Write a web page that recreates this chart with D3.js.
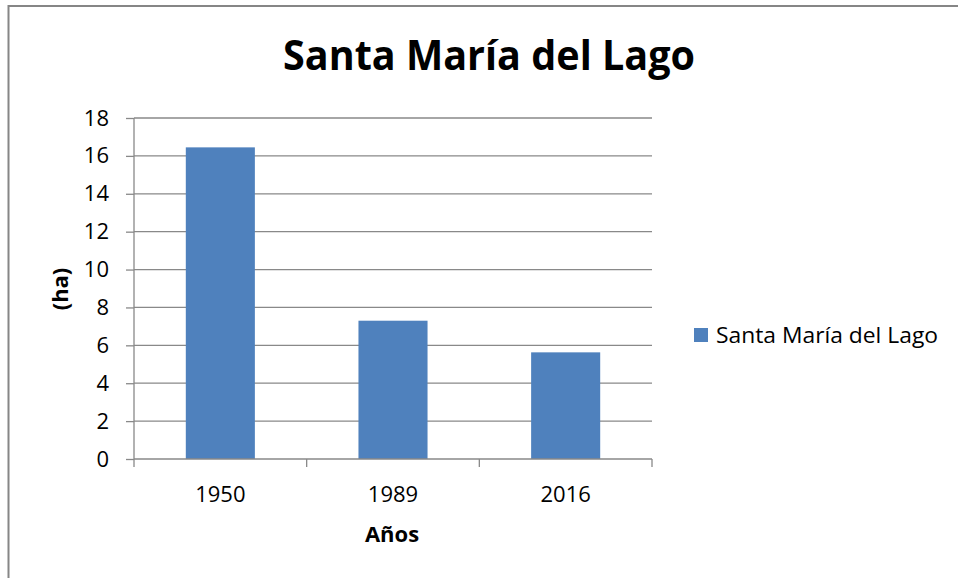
<!DOCTYPE html>
<html>
<head>
    <meta charset="utf-8">
    <script src="https://d3js.org/d3.v7.min.js"></script>
</head>

<style>
body {
    margin: 0;
    background: #ffffff;
}
text {
    font-family: "Open Sans", "Noto Sans", sans-serif;
    fill: #000000;
}
</style>

<body>
<div id="chart"></div>

<script>
    // Chart data
    var years = ["1950", "1989", "2016"];
    var hectares = [16.45, 7.3, 5.63];
    var yTicks = [0, 2, 4, 6, 8, 10, 12, 14, 16, 18];
    var seriesName = "Santa María del Lago";
    var chartTitle = "Santa María del Lago";

    var width = 958, height = 578;
    var plot = {left: 134, right: 652, top: 118, bottom: 459};
    var gridColor = "#898989", barColor = "#4f81bd";

    var svg = d3.select("#chart")
        .append("svg")
        .attr("width", width)
        .attr("height", height);

    // outer chart border (right and bottom are cut off in the picture)
    svg.append("rect")
        .attr("x", 8.5).attr("y", 6)
        .attr("width", 980).attr("height", 600)
        .attr("fill", "none")
        .attr("stroke", "#868686")
        .attr("stroke-width", 2);

    var x = d3.scaleBand()
        .domain(years)
        .range([plot.left, plot.right])
        .paddingInner(0.6)
        .paddingOuter(0.3);

    var y = d3.scaleLinear()
        .domain([0, 18])
        .range([plot.bottom, plot.top]);

    // horizontal gridlines
    svg.append("g")
        .selectAll("line")
        .data(yTicks.filter(d => d > 0))
        .enter().append("line")
        .attr("x1", plot.left).attr("x2", plot.right)
        .attr("y1", d => y(d)).attr("y2", d => y(d))
        .attr("stroke", gridColor)
        .attr("stroke-width", 1.3);

    // bars
    svg.append("g")
        .selectAll("rect")
        .data(years)
        .enter().append("rect")
        .attr("x", d => x(d))
        .attr("y", (d, i) => y(hectares[i]))
        .attr("width", x.bandwidth())
        .attr("height", (d, i) => y(0) - y(hectares[i]))
        .attr("fill", barColor);

    // y axis
    var yAxis = svg.append("g")
        .attr("transform", "translate(" + plot.left + ",0)")
        .call(d3.axisLeft(y).tickValues(yTicks).tickSize(8).tickPadding(17));
    yAxis.attr("font-size", null).attr("font-family", null);
    yAxis.select(".domain").remove();
    yAxis.selectAll("line").attr("stroke", gridColor).attr("stroke-width", 1.3);
    yAxis.append("line")
        .attr("x1", 0).attr("x2", 0)
        .attr("y1", plot.top).attr("y2", plot.bottom)
        .attr("stroke", gridColor).attr("stroke-width", 1.3);
    yAxis.selectAll("text")
        .style("font-size", "22px")
        .attr("fill", "#000");

    // x axis: tick marks sit on category boundaries
    var step = x.step();
    var xAxis = svg.append("g")
        .attr("transform", "translate(0," + plot.bottom + ")");
    xAxis.append("line")
        .attr("x1", plot.left).attr("x2", plot.right)
        .attr("stroke", gridColor).attr("stroke-width", 1.3);
    xAxis.selectAll(".bound")
        .data(d3.range(years.length + 1))
        .enter().append("line")
        .attr("x1", i => plot.left + i * step).attr("x2", i => plot.left + i * step)
        .attr("y1", 0).attr("y2", 8)
        .attr("stroke", gridColor).attr("stroke-width", 1.3);
    xAxis.selectAll("text")
        .data(years)
        .enter().append("text")
        .attr("x", d => x(d) + x.bandwidth() / 2)
        .attr("y", 43)
        .attr("text-anchor", "middle")
        .style("font-size", "22px")
        .text(d => d);

    // titles
    svg.append("text")
        .attr("x", 489).attr("y", 70)
        .attr("text-anchor", "middle")
        .style("font-size", "41px")
        .attr("font-weight", "bold")
        .attr("textLength", 412)
        .attr("lengthAdjust", "spacingAndGlyphs")
        .text(chartTitle);

    svg.append("text")
        .attr("x", 392).attr("y", 542)
        .attr("text-anchor", "middle")
        .style("font-size", "22px")
        .attr("font-weight", "bold")
        .text("Años");

    svg.append("text")
        .attr("transform", "translate(68,289) rotate(-90)")
        .attr("text-anchor", "middle")
        .style("font-size", "22px")
        .attr("font-weight", "bold")
        .text("(ha)");

    // legend
    var legend = svg.append("g").attr("transform", "translate(694,328)");
    legend.append("rect")
        .attr("width", 14).attr("height", 14)
        .attr("fill", barColor);
    legend.append("text")
        .attr("x", 22).attr("y", 15)
        .style("font-size", "22px")
        .attr("textLength", 222)
        .attr("lengthAdjust", "spacingAndGlyphs")
        .text(seriesName);
</script>
</body>
</html>
